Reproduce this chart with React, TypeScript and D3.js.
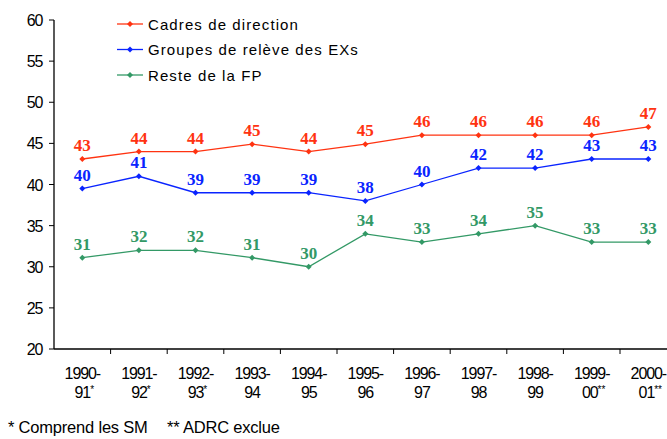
import React from "react";
import * as d3 from "d3";

const categories = ["1990-|91*", "1991-|92*", "1992-|93*", "1993-|94", "1994-|95", "1995-|96", "1996-|97", "1997-|98", "1998-|99", "1999-|00**", "2000-|01**"];
const cadres = [43.1, 44, 44, 44.9, 44, 44.9, 46, 46, 46, 46, 47];
const groupes = [39.5, 41, 39, 39, 39, 38, 40, 42, 42, 43.1, 43.1];
const reste = [31.1, 32, 32, 31.1, 30, 34, 33, 34, 35, 33, 33];
const cadresLabels = [43, 44, 44, 45, 44, 45, 46, 46, 46, 46, 47];
const groupesLabels = [40, 41, 39, 39, 39, 38, 40, 42, 42, 43, 43];
const resteLabels = [31, 32, 32, 31, 30, 34, 33, 34, 35, 33, 33];
const yTicks = [20, 25, 30, 35, 40, 45, 50, 55, 60];
const seriesNames = ["Cadres de direction", "Groupes de relève des EXs", "Reste de la FP"];
const footnotes = ["* Comprend les SM", "** ADRC exclue"];

const colors = ["#ff3311", "#0a24ff", "#339966"];

export default function App() {
  const W = 667, H = 439;
  const x0 = 54, bw = 56.6;
  const x = d3.scaleBand<string>().domain(categories).range([x0, x0 + bw * categories.length]).padding(0);
  const y = d3.scaleLinear().domain([20, 60]).range([349, 20]);
  const line = d3.line<number>().x((_, i) => (x(categories[i]) as number) + bw / 2).y((d) => y(d));
  const series = [
    { vals: cadres, labels: cadresLabels },
    { vals: groupes, labels: groupesLabels },
    { vals: reste, labels: resteLabels },
  ];
  const diamond = (cx: number, cy: number, r = 3) => `M${cx},${cy - r}L${cx + r},${cy}L${cx},${cy + r}L${cx - r},${cy}Z`;
  const sans = "Arial, Liberation Sans, sans-serif";
  return (
    <svg width={W} height={H} style={{ position: "absolute", left: 0, top: 0, background: "#fff" }}>
      <rect width={W} height={H} fill="#fff" />
      {/* y axis */}
      <line x1={x0} x2={x0} y1={y(60)} y2={y(20)} stroke="#000" strokeWidth={1.3} />
      {yTicks.map((t) => (
        <g key={t}>
          <line x1={x0 - 5} x2={x0} y1={y(t)} y2={y(t)} stroke="#000" strokeWidth={1} />
          <text x={42} y={y(t) + 6} textAnchor="end" fontFamily={sans} fontSize={16} letterSpacing={-1.3} fill="#000">
            {t}
          </text>
        </g>
      ))}
      {/* x axis */}
      <line x1={x0} x2={W} y1={y(20)} y2={y(20)} stroke="#000" strokeWidth={1.3} />
      {categories.map((c, i) => {
        const bx = x(c) as number;
        const [l1, l2] = c.split("|");
        const stars = l2.match(/\*+/);
        return (
          <g key={c}>
            {i > 0 && <line x1={bx} x2={bx} y1={y(20)} y2={y(20) + 5} stroke="#000" />}
            <text x={bx + bw / 2} y={379} textAnchor="middle" fontFamily={sans} fontSize={16} letterSpacing={-1.1} fill="#000">
              {l1}
            </text>
            <text x={bx + bw / 2 + (stars ? 2 : 0)} y={398} textAnchor="middle" fontFamily={sans} fontSize={16} letterSpacing={-1.1} fill="#000">
              {l2.replace(/\*+/, "")}
              {stars && (
                <tspan fontSize={10} dy={-5} letterSpacing={0}>{stars[0]}</tspan>
              )}
            </text>
          </g>
        );
      })}
      {/* series */}
      {series.map((s, si) => (
        <g key={si}>
          <path d={line(s.vals) as string} fill="none" stroke={colors[si]} strokeWidth={1.3} />
          {s.vals.map((v, i) => {
            const cx = (x(categories[i]) as number) + bw / 2;
            return (
              <g key={i}>
                <path d={diamond(cx, y(v))} fill={colors[si]} />
                <text x={cx} y={y(v) - 8} textAnchor="middle" fontFamily="Liberation Serif, Times New Roman, serif" fontWeight="bold" fontSize={17} fill={colors[si]}>
                  {s.labels[i]}
                </text>
              </g>
            );
          })}
        </g>
      ))}
      {/* legend */}
      {seriesNames.map((n, i) => {
        const ly = 24 + i * 25.5;
        return (
          <g key={n}>
            <line x1={117} x2={143} y1={ly} y2={ly} stroke={colors[i]} strokeWidth={1.3} />
            <path d={diamond(130, ly)} fill={colors[i]} />
            <text x={148} y={ly + 5.5} fontFamily={sans} fontSize={15} letterSpacing={1.1} fill="#000">
              {n}
            </text>
          </g>
        );
      })}
      <text x={8} y={433} fontFamily={sans} fontSize={16.5} letterSpacing={-0.2} fill="#000">
        {footnotes[0]}
      </text>
      <text x={167} y={433} fontFamily={sans} fontSize={16.5} letterSpacing={-0.2} fill="#000">
        {footnotes[1]}
      </text>
    </svg>
  );
}
